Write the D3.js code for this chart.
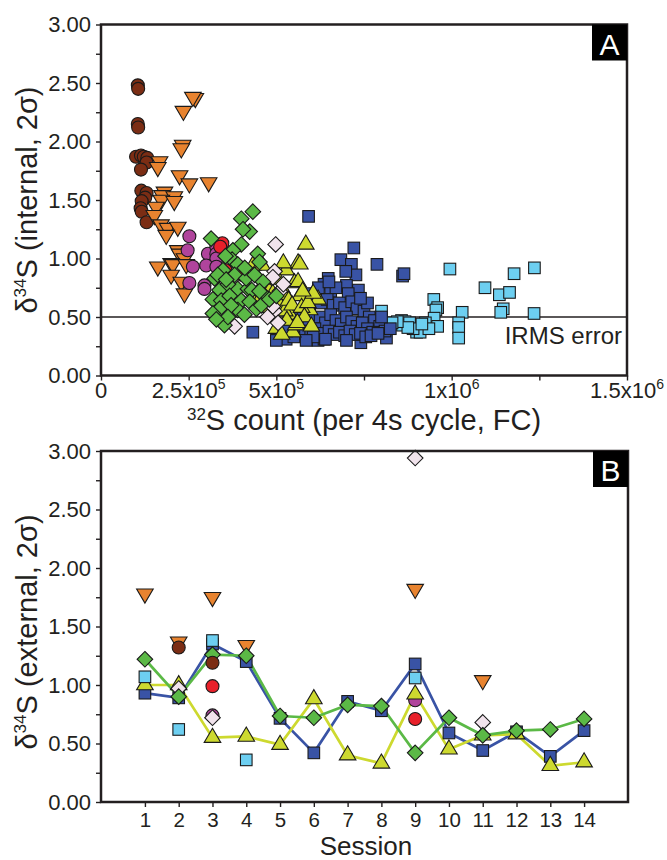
<!DOCTYPE html>
<html><head><meta charset="utf-8">
<script src="https://cdn.jsdelivr.net/npm/d3@7"></script>
<style>
html,body{margin:0;padding:0;background:#fff;}
svg{display:block;font-family:"Liberation Sans",Arial,Helvetica,sans-serif;}
</style></head>
<body>
<svg id="chart" width="667" height="860"></svg>
<script>
// ---------------- DATA: Panel A (32S count, d34S internal 2σ) ----------------
const brownCirclesA = [[1.05e5,2.48],[1.06e5,2.45],[1.05e5,2.15],[1.06e5,2.12],[1.0e5,1.87],[1.14e5,1.88],[1.22e5,1.87],[1.32e5,1.86],[1.30e5,1.82],[1.14e5,1.76],[1.15e5,1.58],[1.30e5,1.56],[1.26e5,1.52],[1.16e5,1.49],[1.13e5,1.43],[1.16e5,1.40],[1.30e5,1.31]];
const orangeTrianglesA = [[2.69e5,2.37],[2.62e5,2.38],[2.35e5,2.26],[2.33e5,1.97],[2.29e5,1.94],[1.67e5,1.83],[1.62e5,1.78],[2.24e5,1.71],[2.52e5,1.64],[3.07e5,1.65],[1.81e5,1.57],[1.74e5,1.54],[2.09e5,1.53],[1.72e5,1.50],[1.57e5,1.44],[2.09e5,1.49],[1.52e5,1.37],[1.71e5,1.29],[1.90e5,1.26],[2.19e5,1.27],[1.86e5,1.20],[2.19e5,1.07],[2.24e5,1.04],[2.38e5,1.00],[1.62e5,0.93],[2.0e5,0.96],[2.05e5,0.95],[2.43e5,0.95],[2.0e5,0.86],[2.29e5,0.80],[2.38e5,0.70]];
const magentaCirclesA = [[2.52e5,1.19],[2.47e5,1.07],[3.05e5,1.04],[3.29e5,1.10],[3.29e5,1.04],[3.29e5,1.00],[3.0e5,0.94],[3.29e5,0.93],[2.62e5,0.93],[2.52e5,0.79],[2.95e5,0.77],[2.95e5,0.74]];
const redCirclesA = [[3.46e5,1.13],[3.40e5,1.10],[3.55e5,0.90],[4.0e5,0.89],[4.02e5,0.86]];
const greenDiamondsA = [[4.33e5,1.40],[4.0e5,1.34],[4.24e5,1.23],[4.05e5,1.25],[3.14e5,1.17],[4.0e5,1.12],[4.47e5,1.04],[4.52e5,0.97],[3.76e5,1.07],[3.74e5,0.99],[3.55e5,1.02],[3.9e5,0.95],[3.24e5,0.83],[3.81e5,0.86],[3.38e5,0.73],[3.9e5,0.74],[4.19e5,0.74],[4.3e5,0.73],[3.19e5,0.65],[3.43e5,0.64],[4.0e5,0.64],[4.24e5,0.63],[3.38e5,0.57],[3.9e5,0.56],[3.19e5,0.53],[4.09e5,0.52],[3.52e5,0.43],[3.62e5,0.78],[3.48e5,0.90],[3.33e5,0.86],[4.14e5,0.83],[4.38e5,0.86],[4.62e5,0.80],[4.67e5,0.68],[3.67e5,0.68],[3.71e5,0.60],[3.62e5,0.50],[4.43e5,0.57],[4.57e5,0.60],[3.29e5,0.48],[4.1e5,0.92],[4.52e5,0.72],[3.57e5,0.82],[4.8e5,0.65],[5.0e5,0.68]];
const pinkDiamondsA = [[4.95e5,0.89],[4.9e5,0.84],[3.81e5,0.42],[4.95e5,0.55],[4.9e5,0.59],[4.98e5,1.12],[5.1e5,0.72],[5.2e5,0.78],[4.75e5,0.50],[5.05e5,0.45]];
const yellowTrianglesA = [[5.84e5,1.12],[5.62e5,0.96],[5.67e5,0.95],[5.28e5,0.90],[5.52e5,0.79],[5.62e5,0.80],[5.26e5,0.69],[5.67e5,0.68],[5.95e5,0.56],[6.19e5,0.65],[5.39e5,0.52],[5.47e5,0.37],[5.55e5,0.43],[4.33e5,0.94],[4.4e5,0.87],[4.33e5,0.64],[5.0e5,0.62],[5.1e5,0.60],[5.24e5,0.55],[4.62e5,0.78],[4.8e5,0.72],[4.9e5,0.70],[5.05e5,0.82],[5.15e5,0.75],[5.35e5,0.64],[5.45e5,0.60],[5.72e5,0.58],[5.8e5,0.50],[5.9e5,0.62],[6.05e5,0.70],[5.3e5,0.47],[5.6e5,0.45],[5.0e5,0.40],[4.7e5,0.58],[4.55e5,0.66],[5.15e5,0.35],[6.0e5,0.42],[5.75e5,0.72],[4.6e5,0.94],[5.2e5,0.96]];
const blueSquaresA = [[5.92e5,1.36],[7.21e5,1.09],[6.84e5,0.99],[7.87e5,0.95],[7.14e5,0.95],[7.27e5,0.86],[6.48e5,0.83],[6.98e5,0.89],[7.0e5,0.77],[8.6e5,0.85],[8.64e5,0.87],[7.34e5,0.73],[6.19e5,0.30],[6.36e5,0.31],[7.41e5,0.28],[8.14e5,0.32],[5.28e5,0.31],[4.33e5,0.37],[5.0e5,0.30],
 [6.36e5,0.78],[6.55e5,0.72],[6.7e5,0.75],[7.05e5,0.70],[6.1e5,0.66],[6.27e5,0.62],[6.45e5,0.65],[6.62e5,0.60],[6.8e5,0.62],[6.95e5,0.58],[7.15e5,0.63],[7.3e5,0.57],[7.5e5,0.55],[7.65e5,0.50],[7.8e5,0.47],[7.95e5,0.42],[8.1e5,0.38],[8.25e5,0.40],[5.95e5,0.52],[6.1e5,0.48],[6.25e5,0.50],[6.4e5,0.45],[6.55e5,0.52],[6.7e5,0.47],[6.85e5,0.44],[7.0e5,0.50],[7.15e5,0.46],[7.3e5,0.42],[7.45e5,0.45],[7.6e5,0.40],[7.75e5,0.37],[5.8e5,0.42],[5.95e5,0.38],[6.1e5,0.40],[6.3e5,0.36],[6.5e5,0.38],[6.65e5,0.35],[6.8e5,0.37],[6.95e5,0.34],[7.1e5,0.38],[7.25e5,0.35],[7.4e5,0.36],[7.55e5,0.33],[7.7e5,0.34],[7.9e5,0.36],[5.65e5,0.36],[5.5e5,0.33],[5.7e5,0.55],[5.85e5,0.60],[6.0e5,0.70],[6.2e5,0.75],[6.5e5,0.80],[5.45e5,0.45],[8.0e5,0.50],[7.6e5,0.62],[7.4e5,0.66],[5.6e5,0.50],[5.3e5,0.38],[6.05e5,0.33],[6.4e5,0.31],[7.0e5,0.30],[5.85e5,0.30]];
const lightBlueSquaresA = [[8.0e5,0.55],[8.57e5,0.47],[8.67e5,0.46],[8.6e5,0.43],[9.0e5,0.37],[9.1e5,0.37],[9.49e5,0.65],[9.6e5,0.58],[9.55e5,0.56],[9.5e5,0.49],[9.6e5,0.42],[9.95e5,0.91],[1.03e6,0.54],[1.02e6,0.45],[1.02e6,0.41],[1.02e6,0.32],[1.095e6,0.75],[1.178e6,0.87],[1.236e6,0.92],[1.136e6,0.69],[1.165e6,0.71],[1.147e6,0.57],[1.14e6,0.54],[1.235e6,0.53],[8.8e5,0.45],[8.9e5,0.40],[9.25e5,0.45],[9.35e5,0.40],[9.15e5,0.44],[8.75e5,0.41],[8.45e5,0.46],[8.3e5,0.45],[7.9e5,0.45]];
const irmsError = 0.5;

// ---------------- DATA: Panel B (session, d34S external 2σ) ----------------
const sessions = [1,2,3,4,5,6,7,8,9,10,11,12,13,14];
const blueLineB   = [0.93,0.89,1.35,1.20,0.715,0.42,0.86,0.78,1.18,0.59,0.44,0.60,0.39,0.61];
const greenLineB  = [1.22,0.90,1.26,1.25,0.735,0.72,0.83,0.82,0.42,0.72,0.57,0.61,0.62,0.71];
const yellowLineB = [1.00,1.00,0.55,0.56,0.49,0.88,0.40,0.33,0.92,0.45,0.57,0.58,0.31,0.34];
const orangeB     = [[1,1.78],[2,1.37],[3,1.75],[4,1.34],[9,1.82],[11,1.04]];
const brownB      = [[2,1.32],[3,1.19]];
const lightBlueB  = [[1,1.07],[2,0.62],[3,1.38],[4,0.36],[9,1.06]];
const redB        = [[3,0.99],[9,0.71]];
const magentaB    = [[3,0.74],[9,0.87]];
const pinkB       = [[2,0.97],[3,0.72],[9,2.94],[11,0.68]];

// ---------------- Tick labels ----------------
const yTicks = [0,0.25,0.5,0.75,1,1.25,1.5,1.75,2,2.25,2.5,2.75,3];
const yTickLabels = ["0.00","","0.50","","1.00","","1.50","","2.00","","2.50","","3.00"];
const xTicksA = [0,2.5e5,5e5,7.5e5,1e6,1.25e6,1.5e6];
const xTickMantA = ["0","2.5x10","5x10","","1x10","","1.5x10"];
const xTickExpA  = ["","5","5","","6","","6"];

// ---------------- Styles ----------------
const C = {brown:"#7b2d14", orange:"#e8832f", magenta:"#b0449c", red:"#e8202a", green:"#5bb946",
           pink:"#f1e3ec", yellow:"#cdd92f", blue:"#3953a5", lightblue:"#6dcff1", ink:"#231f20"};

const svg = d3.select("#chart");
const font = '"Liberation Sans",Arial,Helvetica,sans-serif';

function marker(g, shape, fill, cx, cy){
  const s = g.append("g").attr("transform",`translate(${cx},${cy})`);
  let el;
  if(shape==="circle") el = s.append("circle").attr("r",6.5);
  else if(shape==="square") el = s.append("rect").attr("x",-5.8).attr("y",-5.8).attr("width",11.6).attr("height",11.6);
  else if(shape==="diamond") el = s.append("path").attr("d","M0,-7.8L7.8,0L0,7.8L-7.8,0Z");
  else if(shape==="up") el = s.append("path").attr("d","M0,-9.4L8.3,4.7L-8.3,4.7Z");
  else if(shape==="down") el = s.append("path").attr("d","M-8.3,-4.7L8.3,-4.7L0,9.4Z");
  el.attr("fill",fill).attr("stroke","#1a1a1a").attr("stroke-width",1.1);
}

function yAxis(g, y, x0){
  const ax = d3.axisLeft(y).tickValues(yTicks).tickSize(5).tickPadding(5)
    .tickFormat((d,i)=>yTickLabels[i]);
  const a = g.append("g").attr("transform",`translate(${x0},0)`).call(ax);
  a.select(".domain").remove();
  a.selectAll(".tick line").attr("stroke",C.ink).attr("stroke-width",1.4);
  a.selectAll(".tick text").attr("font-size",22).attr("fill",C.ink).attr("font-family",font);
}

function frame(g, x0, x1, y0, y1){
  g.append("rect").attr("x",x0).attr("y",y0).attr("width",x1-x0).attr("height",y1-y0)
    .attr("fill","none").attr("stroke",C.ink).attr("stroke-width",2.5);
}

function panelLabel(g, letter, x1, y0){
  g.append("rect").attr("x",x1-35).attr("y",y0).attr("width",35).attr("height",36).attr("fill","#000");
  g.append("text").attr("x",x1-17.5).attr("y",y0+30).attr("text-anchor","middle")
    .attr("font-size",30).attr("fill","#fff").attr("font-family",font).text(letter);
}

function yTitle(g, cx, cy, word){
  const t = g.append("text").attr("transform",`translate(${cx},${cy}) rotate(-90)`)
    .attr("text-anchor","middle").attr("font-size",29).attr("fill",C.ink).attr("font-family",font);
  t.append("tspan").text("δ");
  t.append("tspan").attr("font-size",17).attr("dy",-11).text("34");
  t.append("tspan").attr("dy",11).text(`S (${word}, 2σ)`);
}

// ================= PANEL A =================
const gA = svg.append("g");
const xA = d3.scaleLinear().domain([0,1.5e6]).range([101,627]);
const yA = d3.scaleLinear().domain([0,3]).range([375.5,24.5]);

const axA = d3.axisBottom(xA).tickValues(xTicksA).tickSize(5).tickFormat("");
const axAg = gA.append("g").attr("transform",`translate(0,${yA(0)})`).call(axA);
axAg.select(".domain").remove();
axAg.selectAll(".tick line").attr("stroke",C.ink).attr("stroke-width",1.4);
xTicksA.forEach((v,i)=>{
  if(!xTickMantA[i]) return;
  const t = gA.append("text").attr("x",xA(v)).attr("y",398).attr("text-anchor","middle")
    .attr("font-size",22).attr("fill",C.ink).attr("font-family",font);
  t.append("tspan").text(xTickMantA[i]);
  if(xTickExpA[i]) t.append("tspan").attr("font-size",14).attr("dy",-9).text(xTickExpA[i]);
});
yAxis(gA, yA, 101);

gA.append("line").attr("x1",xA(0)).attr("x2",xA(1.5e6)).attr("y1",yA(irmsError)).attr("y2",yA(irmsError))
  .attr("stroke",C.ink).attr("stroke-width",1.6);
gA.append("text").attr("x",622).attr("y",344).attr("text-anchor","end").attr("font-size",24)
  .attr("fill",C.ink).attr("font-family",font).text("IRMS error");

const seriesA = [
  [lightBlueSquaresA,"square",C.lightblue],
  [blueSquaresA,"square",C.blue],
  [yellowTrianglesA,"up",C.yellow],
  [pinkDiamondsA,"diamond",C.pink],
  [brownCirclesA,"circle",C.brown],
  [orangeTrianglesA,"down",C.orange],
  [magentaCirclesA,"circle",C.magenta],
  [redCirclesA,"circle",C.red],
  [greenDiamondsA,"diamond",C.green]
];
const mA = gA.append("g");
seriesA.forEach(([data,shape,fill])=>data.forEach(d=>marker(mA,shape,fill,xA(d[0]),yA(d[1]))));

frame(gA, 101, 627, 24.5, 375.5);
panelLabel(gA, "A", 627, 24.5);

const xtA = gA.append("text").attr("x",364).attr("y",430).attr("text-anchor","middle")
  .attr("font-size",29).attr("fill",C.ink).attr("font-family",font);
xtA.append("tspan").attr("font-size",17).attr("dy",-10).text("32");
xtA.append("tspan").attr("dy",10).text("S count (per 4s cycle, FC)");
yTitle(gA, 37, 200, "internal");

// ================= PANEL B =================
const gB = svg.append("g");
const xB = d3.scaleLinear().domain([-0.3,15.3]).range([101,628]);
const yB = d3.scaleLinear().domain([0,3]).range([802,451]);

const axB = d3.axisBottom(xB).tickValues(sessions).tickSize(5).tickPadding(5).tickFormat(d3.format("d"));
const axBg = gB.append("g").attr("transform",`translate(0,${yB(0)})`).call(axB);
axBg.select(".domain").remove();
axBg.selectAll(".tick line").attr("stroke",C.ink).attr("stroke-width",1.4);
axBg.selectAll(".tick text").attr("font-size",20.5).attr("fill",C.ink).attr("font-family",font);
yAxis(gB, yB, 101);

const line = d3.line().x((d,i)=>xB(sessions[i])).y(d=>yB(d));
[[blueLineB,C.blue],[yellowLineB,C.yellow],[greenLineB,C.green]].forEach(([arr,col])=>{
  gB.append("path").attr("d",line(arr)).attr("fill","none").attr("stroke",col).attr("stroke-width",2.7);
});

const mB = gB.append("g");
magentaB.forEach(d=>marker(mB,"circle",C.magenta,xB(d[0]),yB(d[1])));
redB.forEach(d=>marker(mB,"circle",C.red,xB(d[0]),yB(d[1])));
blueLineB.forEach((v,i)=>marker(mB,"square",C.blue,xB(sessions[i]),yB(v)));
yellowLineB.forEach((v,i)=>marker(mB,"up",C.yellow,xB(sessions[i]),yB(v)));
lightBlueB.forEach(d=>marker(mB,"square",C.lightblue,xB(d[0]),yB(d[1])));
pinkB.forEach(d=>marker(mB,"diamond",C.pink,xB(d[0]),yB(d[1])));
orangeB.forEach(d=>marker(mB,"down",C.orange,xB(d[0]),yB(d[1])));
greenLineB.forEach((v,i)=>marker(mB,"diamond",C.green,xB(sessions[i]),yB(v)));
brownB.forEach(d=>marker(mB,"circle",C.brown,xB(d[0]),yB(d[1])));

frame(gB, 101, 628, 451, 802);
panelLabel(gB, "B", 628, 451);

gB.append("text").attr("x",366).attr("y",855).attr("text-anchor","middle")
  .attr("font-size",26).attr("fill",C.ink).attr("font-family",font).text("Session");
yTitle(gB, 37, 632, "external");
</script>
</body></html>
